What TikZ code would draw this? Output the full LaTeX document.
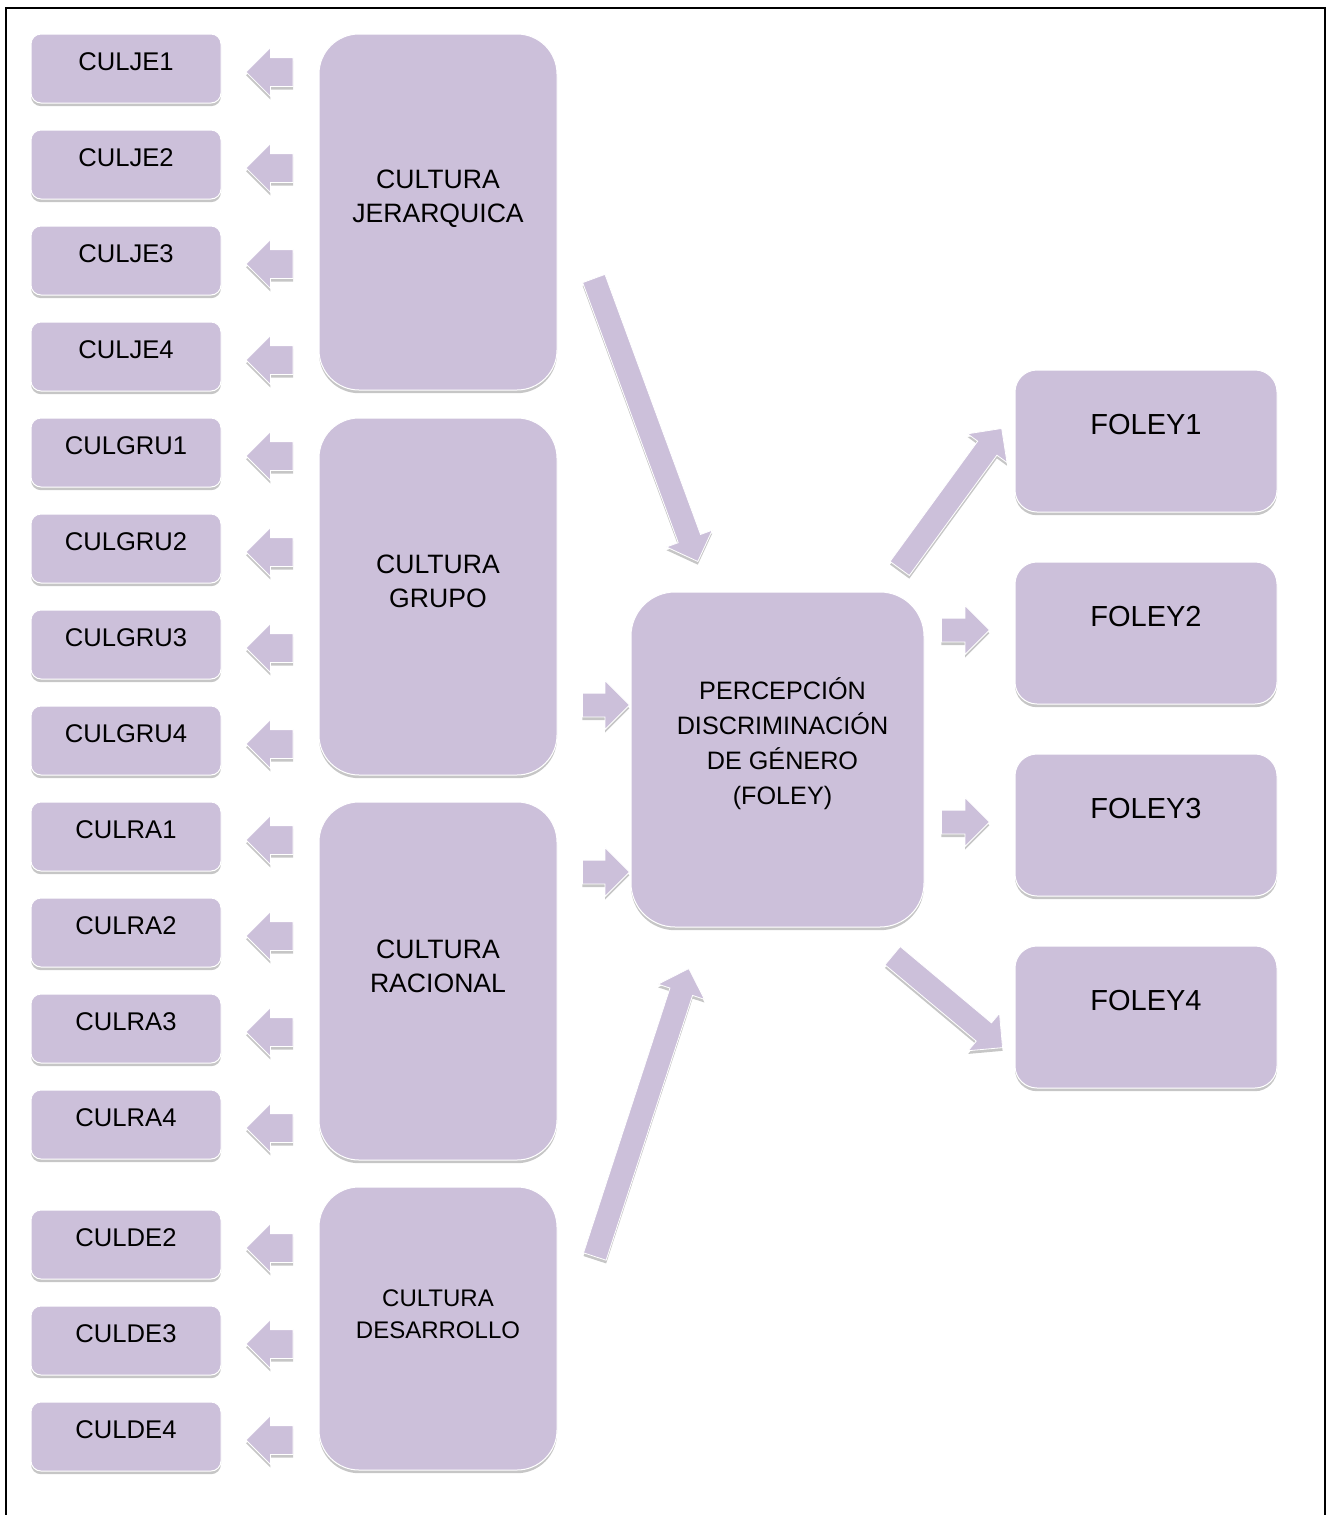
\documentclass[tikz,border=0pt]{standalone}
\usepackage{fontspec}
\setmainfont{Liberation Sans}
\usetikzlibrary{calc,shapes.arrows,shadows}

\definecolor{lav}{RGB}{204,192,218}
\definecolor{shade}{RGB}{198,198,198}

\tikzset{
  softshadow/.style={drop shadow={shadow xshift=0pt,shadow yshift=-1.6pt,fill=shade,opacity=1}},
  box/.style={fill=lav,draw=white,line width=0.5pt,softshadow,inner sep=0pt},
  leaf/.style={box,rounded corners=5pt,minimum width=95pt,minimum height=34.5pt},
  factor/.style={box,rounded corners=20pt,minimum width=119pt},
  centre/.style={box,rounded corners=22pt,minimum width=146.5pt,minimum height=167.5pt},
  item/.style={box,rounded corners=11pt,minimum width=131pt,minimum height=71pt},
  leaftxt/.style={font=\fontsize{12.8}{15}\selectfont,inner sep=0pt},
  factxt/.style={font=\fontsize{13.3}{17}\selectfont,align=center,inner sep=0pt},
  fat/.style={single arrow,fill=lav,draw=white,line width=0.4pt,softshadow,
    minimum width=0pt,inner xsep=0pt,inner ysep=5.75pt,single arrow head extend=6.25pt},
  fatleft/.style={inner ysep=7pt,single arrow head extend=5pt},
}

% block arrow from one named coordinate to another, tip on the second one
\newcommand\fatarrow[3][]{%
  \path let \p1=($(#3)-(#2)$), \n1={atan2(\y1,\x1)}, \n2={veclen(\x1,\y1)} in
    node[fat,#1,minimum height=\n2,rotate=\n1,anchor=tip] at (#3) {};}

\begin{document}
\begin{tikzpicture}[x=0.5pt,y=-0.5pt]
\useasboundingbox (0,0) rectangle (1331,1515);

% page frame (open at the bottom)
\draw[line width=1pt] (6,1515) -- (6,8) -- (1325,8) -- (1325,1515);

% factor blocks
\node[factor,minimum height=178pt] (jer) at (438,212) {};
\node[factxt] (jer-t) at ([yshift=6.5pt]jer.center) {CULTURA\\JERARQUICA};
\node[factor,minimum height=178.5pt] (gru) at (438,596.5) {};
\node[factxt] (gru-t) at ([yshift=7.5pt]gru.center) {CULTURA\\GRUPO};
\node[factor,minimum height=179pt] (rac) at (438,981) {};
\node[factxt] (rac-t) at ([yshift=7.5pt]rac.center) {CULTURA\\RACIONAL};
\node[factor,minimum height=141.5pt] (des) at (438,1328.5) {};
\node[factxt,font=\fontsize{12}{16}\selectfont] (des-t) at ([yshift=7pt]des.center) {CULTURA\\DESARROLLO};

% items of each factor
\foreach \nm/\yy/\tx in {
  je1/68.5/CULJE1, je2/164.5/CULJE2, je3/260.5/CULJE3, je4/356.5/CULJE4,
  gr1/452.5/CULGRU1, gr2/548.5/CULGRU2, gr3/644.5/CULGRU3, gr4/740.5/CULGRU4,
  ra1/836.5/CULRA1, ra2/932.5/CULRA2, ra3/1028.5/CULRA3, ra4/1124.5/CULRA4,
  de2/1244.5/CULDE2, de3/1340.5/CULDE3, de4/1436.5/CULDE4}{
  \node[leaf] (\nm) at (126,\yy) {};
  \node[leaftxt] (\nm-t) at ([yshift=3.25pt]\nm.center) {\tx};
  \coordinate (\nm-a) at ([xshift=35.5pt,yshift=-1.75pt]\nm.east);
  \coordinate (\nm-b) at ([xshift=12pt,yshift=-1.75pt]\nm.east);
  \fatarrow[fatleft,name=\nm-arr]{\nm-a}{\nm-b}
}

% central construct
\node[centre] (cen) at (777.5,759.5) {};
\node[factxt,font=\fontsize{12.6}{17.5}\selectfont] (cen-t) at ([xshift=2.5pt,yshift=8pt]cen.center)
  {PERCEPCIÓN\\DISCRIMINACIÓN\\DE GÉNERO\\(FOLEY)};

% outcome items
\foreach \nm/\yy/\tx in {f1/441/FOLEY1, f2/633/FOLEY2, f3/825/FOLEY3, f4/1017/FOLEY4}{
  \node[item] (\nm) at (1146,\yy) {};
  \node[leaftxt,font=\fontsize{14.5}{16}\selectfont] (\nm-t) at ([yshift=8pt]\nm.center) {\tx};
}

% arrows into the central construct
\coordinate (d1s) at (594,279);  \coordinate (d1e) at (698,562);
\coordinate (d3s) at (595,1256); \coordinate (d3e) at (689,968);
\coordinate (g1s) at (583,705);  \coordinate (g1e) at (630,705);
\coordinate (r1s) at (583,872);  \coordinate (r1e) at (630,872);
\fatarrow[name=jer-arr]{d1s}{d1e}
\fatarrow[name=des-arr]{d3s}{d3e}
\fatarrow[name=gru-arr]{g1s}{g1e}
\fatarrow[name=rac-arr]{r1s}{r1e}

% arrows out to the outcome items
\coordinate (o1s) at (900,568);  \coordinate (o1e) at (1002,428);
\coordinate (o2s) at (942,630);  \coordinate (o2e) at (990,630);
\coordinate (o3s) at (942,822);  \coordinate (o3e) at (990,822);
\coordinate (o4s) at (893,956);  \coordinate (o4e) at (1003,1048);
\fatarrow[name=f1-arr]{o1s}{o1e}
\fatarrow[name=f2-arr]{o2s}{o2e}
\fatarrow[name=f3-arr]{o3s}{o3e}
\fatarrow[name=f4-arr]{o4s}{o4e}
\end{tikzpicture}
\end{document}
